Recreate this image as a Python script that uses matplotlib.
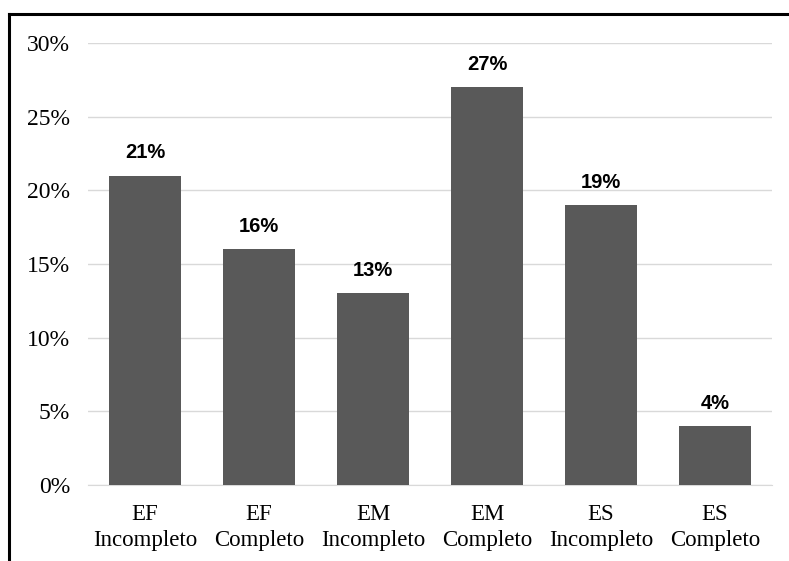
import matplotlib.pyplot as plt
from matplotlib.lines import Line2D

categories = ['EF\nIncompleto', 'EF\nCompleto', 'EM\nIncompleto',
              'EM\nCompleto', 'ES\nIncompleto', 'ES\nCompleto']
values = [21, 16, 13, 27, 19, 4]
yticks = [0, 5, 10, 15, 20, 25, 30]

W, H = 789, 561
fig = plt.figure(figsize=(W / 100, H / 100), dpi=100)
# plot area in pixels: x 88..772, y 43..485
ax = fig.add_axes([88 / W, 1 - 485 / H, (772 - 88) / W, (485 - 43) / H])

x = range(len(categories))
bars = ax.bar(x, values, width=0.63, color='#595959', zorder=3)
ax.set_xlim(-0.5, len(categories) - 0.5)
ax.set_ylim(0, 30)
ax.set_yticks(yticks)
ax.set_yticklabels([f'{v}%' for v in yticks], family='Liberation Serif', fontsize=17)
ax.set_xticks(list(x))
ax.set_xticklabels(categories, family='Liberation Serif', fontsize=16.5, linespacing=1.32)
ax.tick_params(length=0)
ax.tick_params(axis='x', pad=13.5)
ax.tick_params(axis='y', pad=13)
ax.grid(axis='y', color='#d9d9d9', linewidth=1, zorder=0)
for s in ax.spines.values():
    s.set_visible(False)
ax.spines['bottom'].set_visible(True)
ax.spines['bottom'].set_color('#d9d9d9')

for b, v in zip(bars, values):
    ax.annotate(f'{v}%', (b.get_x() + b.get_width() / 2, v), xytext=(0, 12.5),
                textcoords='offset points', ha='center', va='baseline',
                fontsize=14.5, fontweight='bold', family='Liberation Sans')

# outer frame: top and left only
fig.add_artist(Line2D([8.5 / W, 1], [1 - 13.5 / H] * 2, color='black', lw=2.2))
fig.add_artist(Line2D([8.5 / W] * 2, [0, 1 - 13.5 / H], color='black', lw=2.2))

fig.savefig('out.png', dpi=100)
